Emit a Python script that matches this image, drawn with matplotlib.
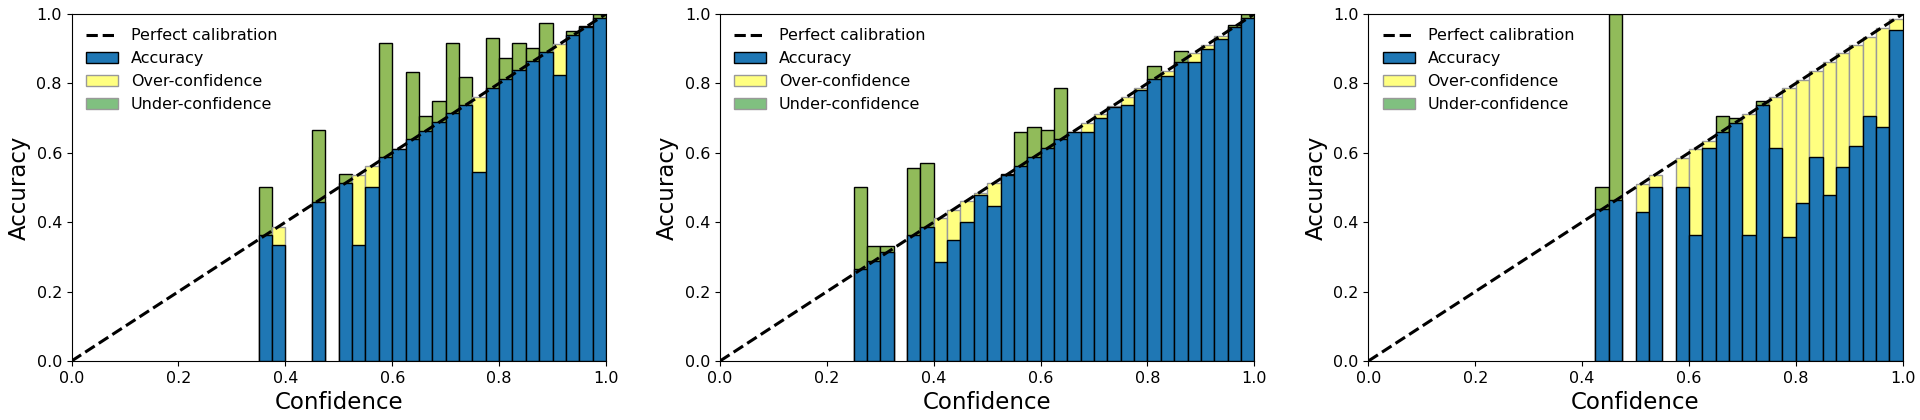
import numpy as np
import matplotlib
matplotlib.use("Agg")
import matplotlib.pyplot as plt
from matplotlib.patches import Patch
from matplotlib.lines import Line2D

# left edge of each non-empty bin, mean accuracy and mean confidence in it
bins_a = [0.35, 0.375, 0.45, 0.5, 0.525, 0.55, 0.575, 0.6, 0.625, 0.65, 0.675, 0.7, 0.725,
          0.75, 0.775, 0.8, 0.825, 0.85, 0.875, 0.9, 0.925, 0.95, 0.975]
acc_a = [0.5, 0.333, 0.667, 0.539, 0.333, 0.5, 0.916, 0.61, 0.834, 0.706, 0.749, 0.916, 0.817,
         0.545, 0.932, 0.874, 0.916, 0.902, 0.973, 0.824, 0.952, 0.965, 1.0]
conf_a = [0.363, 0.385, 0.459, 0.514, 0.536, 0.562, 0.589, 0.611, 0.639, 0.664, 0.69, 0.714, 0.738,
          0.762, 0.788, 0.813, 0.839, 0.865, 0.89, 0.913, 0.939, 0.962, 0.988]

bins_b = [0.25, 0.275, 0.3, 0.35, 0.375, 0.4, 0.425, 0.45, 0.475, 0.5, 0.525, 0.55, 0.575, 0.6,
          0.625, 0.65, 0.675, 0.7, 0.725, 0.75, 0.775, 0.8, 0.825, 0.85, 0.875, 0.9, 0.925, 0.95, 0.975]
acc_b = [0.5, 0.331, 0.331, 0.555, 0.571, 0.284, 0.349, 0.4, 0.478, 0.446, 0.54, 0.66, 0.673, 0.667,
         0.788, 0.661, 0.661, 0.699, 0.731, 0.738, 0.781, 0.851, 0.822, 0.893, 0.861, 0.9, 0.928, 0.968, 1.0]
conf_b = [0.265, 0.289, 0.315, 0.363, 0.387, 0.411, 0.435, 0.461, 0.485, 0.512, 0.537, 0.563, 0.589, 0.613,
          0.639, 0.661, 0.687, 0.711, 0.735, 0.76, 0.786, 0.812, 0.837, 0.863, 0.887, 0.911, 0.937, 0.962, 0.988]

bins_c = [0.425, 0.45, 0.5, 0.525, 0.575, 0.6, 0.625, 0.65, 0.675, 0.7, 0.725, 0.75, 0.775, 0.8,
          0.825, 0.85, 0.875, 0.9, 0.925, 0.95, 0.975]
acc_c = [0.5, 1.0, 0.428, 0.5, 0.5, 0.363, 0.614, 0.705, 0.699, 0.363, 0.749, 0.615, 0.356, 0.454,
         0.589, 0.479, 0.56, 0.621, 0.706, 0.675, 0.954]
conf_c = [0.437, 0.464, 0.51, 0.536, 0.586, 0.61, 0.635, 0.661, 0.687, 0.712, 0.738, 0.762, 0.786, 0.81,
          0.836, 0.861, 0.887, 0.911, 0.935, 0.96, 0.986]

panels = [(bins_a, acc_a, conf_a), (bins_b, acc_b, conf_b), (bins_c, acc_c, conf_c)]

blue = "#1f77b4"
yellow = "#ffff80"
green_bar = "#91bb5a"
green_leg = "#80c080"
width = 0.025

fig, axes = plt.subplots(1, 3, figsize=(19.2, 4.2), dpi=100)
fig.subplots_adjust(left=0.0373, right=0.991, bottom=0.1405, top=0.9667, wspace=0.2135)

for ax, (bins, acc, conf) in zip(axes, panels):
    x = np.array(bins)
    acc = np.array(acc)
    conf = np.array(conf)
    under = acc > conf

    # gap bars first, accuracy on top
    ax.bar(x[under], acc[under], width=width, align="edge", color=green_bar,
           edgecolor="black", linewidth=1, zorder=2)
    ax.bar(x[~under], conf[~under], width=width, align="edge", color=yellow,
           edgecolor="#999999", linewidth=1, zorder=2)
    ax.bar(x, np.minimum(acc, conf), width=width, align="edge", color=blue,
           edgecolor="black", linewidth=1, zorder=3)
    ax.plot([0, 1], [0, 1], "k--", linewidth=2.2, zorder=4)

    ax.set_xlim(0, 1)
    ax.set_ylim(0, 1)
    ax.set_xticks([0, 0.2, 0.4, 0.6, 0.8, 1.0])
    ax.set_yticks([0, 0.2, 0.4, 0.6, 0.8, 1.0])
    ax.tick_params(labelsize=11.5)
    ax.set_xlabel("Confidence", fontsize=16.5)
    ax.set_ylabel("Accuracy", fontsize=16.5)

    handles = [
        Line2D([0], [0], color="black", linestyle="--", linewidth=2.2),
        Patch(facecolor=blue, edgecolor="black"),
        Patch(facecolor=yellow, edgecolor="#999999"),
        Patch(facecolor=green_leg, edgecolor="#999999"),
    ]
    ax.legend(handles, ["Perfect calibration", "Accuracy", "Over-confidence", "Under-confidence"],
              loc="upper left", fontsize=11.5, frameon=False)

fig.savefig("out.png", dpi=100)
